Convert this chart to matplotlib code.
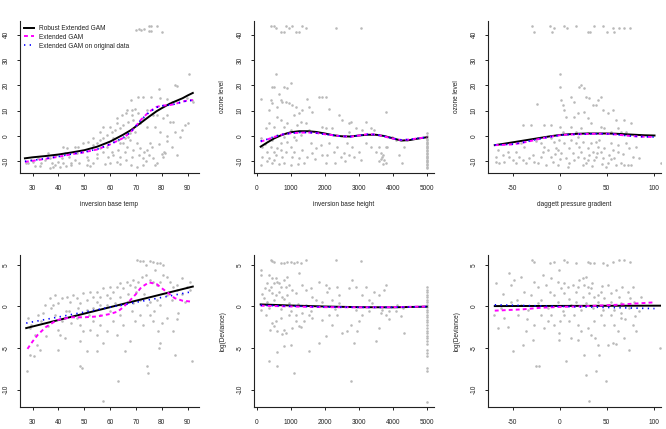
# -*- coding: utf-8 -*-
"""
Robust vs. classical extended GAM fits for the ozone data (R base-graphics look).
"""
import numpy as np
import matplotlib
matplotlib.use('Agg')
import matplotlib.pyplot as plt

plt.rcParams['font.family'] = ['Liberation Sans', 'DejaVu Sans']
plt.rcParams['axes.unicode_minus'] = False

# =============================================================================
# Data
# =============================================================================
# --- top row: ozone level -----------------------------------------------------
ibt_ozone = [
    (70, 42), (71, 42.2), (72, 42), (73, 42.3), (75, 43.4), (76, 43.4), (78, 43.4),
    (75, 41.3), (76, 41.3), (80, 41.2),
    (90.5, 24.5), (85.7, 19.7), (85.1, 20.1), (79, 18.4), (70.9, 15.5), (72.8, 15.5),
    (76, 15.5), (79.3, 14.9), (81.9, 14.6), (83.8, 13.6), (67.9, 14.2), (89.6, 14.9),
    (91.5, 14.2), (92, 13.6),
    (66.4, 10.3), (68.3, 10.3), (69.6, 10.5), (64.5, 8.3), (74.1, 10.3), (76.7, 8.3),
    (78, 8.3), (81.9, 8.3), (83.2, 5.7), (84.5, 5.7), (80.6, 7), (77.4, 3.7), (79.3, 1.7),
    (81.9, 0), (87, -0.3), (85.1, 1.7), (89, 4.3), (74.1, 3.7), (71.5, 5), (69, 6.3),
    (67, 5.7), (65.1, 4.3), (63.8, 3), (61.9, 2.4), (62.6, 5), (60.6, 1.7), (58.6, 0.4),
    (59.9, 3.7), (57.4, -0.9), (56.1, -1.6), (54.8, -2.9), (53.5, -3.6), (61.2, -0.9),
    (63.2, -1.6), (65.1, -2.9), (66.4, -4.2), (67.7, -1.6), (70.3, -2.9), (71.5, -4.9),
    (69, -5.5), (71, -7.5), (68.3, -8.2), (72.8, -8.8), (74.1, -5.5), (75.4, -2.9),
    (76.1, -4.2), (76.7, -8.8), (78, -10.8), (80.6, -8.2), (81.2, -6.8), (65.7, -6.2),
    (63.8, -8.2), (62.6, -10.1), (61.2, -7.5), (59.3, -8.2), (57.4, -6.2), (54.8, -8.8),
    (53.5, -10.8), (51.6, -9.5), (50.9, -8.2), (49.2, -6.2), (47.7, -4.2), (47.1, -6.8),
    (46.5, -9.5), (44.8, -10.8), (44, -8.2), (42.5, -6.8), (41.2, -8.8), (39.9, -10.1),
    (38.6, -11.4), (37.3, -10.8), (36.6, -8.8), (35.8, -6.8), (34.7, -9.5), (33.4, -10.8),
    (32.1, -8.8), (30.3, -10.1), (29.5, -9.5), (28.3, -10.8), (27.5, -10.5), (36.6, -12.8),
    (37.9, -12.1), (40.5, -12.1), (41.8, -10.8), (45, -11.4), (50.9, -11.4), (52.2, -11.8),
    (72.8, -11.4), (77.4, -11.4), (70.3, -12.1), (80, -7.1), (80.8, -6.2), (56, 1.7),
    (57.4, 3.7), (62.6, 7), (66.1, 9), (68.6, 8.3), (70.6, 9), (72.8, 7), (67.7, 1),
    (69.6, 1.7), (67, -0.3), (53.5, -0.9), (51.6, -2.2), (49.6, -2.9), (46.5, -4.2),
    (43.2, -4.9), (41.9, -4.2), (58.6, -4.2), (56.1, -4.9), (60.6, -6.2), (63.2, -5.5),
    (63.8, -2.9), (65.7, -0.9), (60, -10.5), (64, -11), (66, -9.5), (68, -11.5),
    (73, -6.5), (74, -10), (75, -7.5), (79, -3), (82, -2), (84, -4.5), (86, -7.5),
    (88, 2.5), (90, 5), (55, -7), (58, -11), (48, -10.5), (43, -12), (39, -7.5),
    (33, -12), (31, -11.8),
]

ibh_ozone = [
    (403, 43.4), (501, 43.4), (550, 42.5), (697, 41.2), (795, 41.2), (845, 43.4),
    (943, 42.5), (1041, 43.4), (1139, 41.2), (1237, 41.2), (1335, 43.4), (1434, 42.5),
    (2318, 42.5), (3054, 42.5),
    (108, 14.5), (452, 19.5), (501, 19.5), (550, 24.5), (795, 19.2), (894, 18.8),
    (992, 20.8), (648, 16.4), (746, 13.6), (845, 13.6), (943, 12.9), (1041, 12.2),
    (1139, 11.6), (599, 11.6), (697, 14.2), (452, 12.9), (403, 14.2), (1483, 14.5),
    (1827, 15.5), (1925, 15.5), (2043, 15.5), (2121, 10.5), (1335, 10.3), (1237, 9),
    (354, 10.3), (1532, 11.6), (1630, 9.6),
    (255, 3), (354, 5), (501, 3.7), (599, 7.6), (697, 6.3), (795, 3.7), (894, 5),
    (992, 2.4), (1090, 8.3), (1188, 4.3), (1286, 5.7), (1434, 5), (1532, 2.4),
    (1728, 1.7), (1925, 3.7), (2022, 3), (2219, 3), (2416, 8.3), (2514, 6.3),
    (2711, 5), (2760, 5.7), (2907, 3), (3201, 5.7), (3447, 2.4), (3791, 9.6),
    (2711, 1.7), (3103, 2.4), (3348, 3),
    (108, -0.9), (157, -4.2), (137, -8.2), (108, -11.4), (304, -6.2), (403, -4.2),
    (452, -1.6), (354, -8.8), (452, -10.8), (550, -7.5), (599, -4.9), (697, -2.9),
    (746, -8.2), (845, -6.2), (894, -2.2), (992, -4.2), (1041, -8.2), (1090, -6.2),
    (1139, -1.6), (1237, -8.8), (1335, -5.5), (1385, -10.8), (1483, -8.2), (1581, -2.9),
    (1630, -6.8), (1728, -4.9), (1876, -3.6), (1925, -7.5), (2022, -10.8), (2071, -7.5),
    (2121, -2.9), (2268, -6.2), (2367, -4.2), (2465, -8.2), (2563, -6.8), (2661, -2.9),
    (2711, -7.5), (2809, -4.2), (2858, -8.2), (3005, -6.2), (3054, -9.5), (3201, -2.9),
    (3348, -4.2), (3496, -6.2), (3594, -4.2), (3643, -6.8), (3692, -8.2), (3742, -9.5),
    (3791, -10.8), (3840, -4.2), (3987, -0.3), (4085, -1.6), (4183, -7.5), (4282, -10.8),
    (4331, -4.2), (4429, -1.6),
    (300, -10), (500, -9.5), (650, -11), (800, -10.5), (1000, -11.5), (1200, -11),
    (400, -1), (600, 0.5), (800, -0.5), (900, 1), (1100, -0.5), (1300, 0.5), (700, -5.5),
    (500, -6.5), (250, -3), (1700, -9), (2300, -10.5), (2600, -10), (3700, -11),
    (3600, -10), (3650, -9), (3700, -7.5), (3800, -4.5),
    (5000, -12.6), (5000, -12.1), (5000, -11.5), (5000, -11.0), (5000, -10.4),
    (5000, -9.9), (5000, -9.3), (5000, -8.8), (5000, -8.2), (5000, -7.7), (5000, -7.1),
    (5000, -6.6), (5000, -6.0), (5000, -5.5), (5000, -4.9), (5000, -4.4), (5000, -3.8),
    (5000, -3.3), (5000, -2.7), (5000, -2.2), (5000, -1.6), (5000, -1.1), (5000, -0.5),
    (5000, 0.0), (5000, 1.2),
]

dpg_ozone = [
    (-29.4, 43.4), (-27, 41.2), (-9.9, 43.4), (-8.5, 41.2), (-5.7, 42.5), (4.3, 43.4),
    (7.8, 42.5), (17.4, 43.4), (29.8, 41.2), (32.3, 41.2), (36.9, 43.4), (45.7, 43.4),
    (50.4, 41.2), (56.4, 42.5), (58.2, 41.2), (63.5, 42.5), (68.8, 42.5), (75.2, 42.5),
    (0, 24.5), (0, 19.5), (-24.5, 12.6), (-30.5, 4.3), (-39.4, 4.3), (-16.3, 4.3),
    (-9.2, 4.3), (0, 3.7), (1.4, 14.2), (3.2, 12.2), (5, 10.3), (6.7, 7.6), (12.1, 15.5),
    (15.6, 13.6), (20.9, 19.2), (22.7, 20.1), (26.2, 18.8), (28, 15.5), (31.6, 14.9),
    (35.1, 12.2), (38.7, 12.2), (40.4, 14.2), (44, 15.5), (45.7, 10.3), (51, 9),
    (56.4, 10.3), (60, 6.3), (68.8, 6.3), (75.9, 5), (19.1, 9), (26.2, 9.6), (29.8, 7),
    (33.3, 5), (15.6, 7.6), (12.1, 3.7), (44, 3.7), (47.5, 3), (54.6, 1.7), (61.7, 3),
    (65, 1.7), (70.6, 1.7), (22.7, 3), (17.4, 1.7), (29.8, 1.0),
    (-67.7, -8.2), (-67.7, -10.1), (-64.2, -10.8), (-58.9, -10.1), (-53.5, -8.2),
    (-50, -9.5), (-46.5, -10.8), (-42.9, -8.2), (-39.4, -9.5), (-35.8, -10.8),
    (-32.3, -8.8), (-28.7, -7.5), (-27, -10.1), (-23.4, -10.8), (-19.9, -8.2),
    (-18.1, -6.2), (-16.3, -4.2), (-12.8, -5.5), (-9.2, -8.2), (-7.4, -10.1),
    (-3.9, -4.9), (-2.1, -11.4), (-0.4, -1.6), (1.4, -6.8), (5, -2.9), (6.7, -8.8),
    (8.5, -12.1), (10.3, -4.9), (13.8, -6.8), (15.6, -9.5), (19.1, -8.2), (20.9, -4.2),
    (22.7, -6.2), (24.5, -2.2), (26.2, -8.8), (28, -10.8), (29.8, -4.9), (31.6, -7.5),
    (33.3, -2.9), (35.1, -6.2), (36.9, -9.5), (38.7, -8.2), (40.4, -4.2), (42.2, -1.6),
    (44, -6.2), (45.7, -8.8), (47.5, -4.9), (49.3, -12.1), (51, -10.8), (52.8, -7.5),
    (54.6, -2.9), (56.4, -5.5), (58.2, -8.8), (61.7, -6.2), (65.2, -10.8), (68.8, -11.4),
    (72.3, -11.4), (75.9, -11.4), (70.6, -2.9), (74.1, -4.9), (77.7, -8.2), (81.2, -4.2),
    (84.8, -8.8), (107.8, -10.5), (3.2, 1.7), (-37.6, -4.2), (-41.1, -2.9), (-46.5, -6.2),
    (-19.9, -2.9), (-9.2, -0.9), (-5.7, -2.2), (12.1, -1.6), (17.4, -2.9), (38.7, -2.2),
    (-55.3, -6.2), (-60.6, -7.5), (-66, -5.5),
    (-25, -2), (-5, -7), (10, -10.5), (25, -11.5), (35, -12), (45, -11), (60, -11.5),
    (0, -9), (-15, -11.5), (30, -9.5), (40, -6.8), (55, -9), (62, -3.5), (67, -7),
    (20, -0.5), (-2, -5.5),
]

# --- bottom row: log(Deviance) --------------------------------------------------
ibt_dev = [
    (70.3, 5.6), (71.5, 5.5), (72.8, 5.5), (75.4, 5.5), (76.7, 5.4), (78, 5.2),
    (79.3, 5.2), (80.6, 5.0), (77.4, 4.4), (73.9, 5.0),
    (34.1, -0.8), (34.8, 0.2), (36.7, 1), (38, 0.2), (38.6, 1.4), (39.9, 0.4), (41.2, 1),
    (43.2, 1.2), (44.5, 0.6), (45.7, 1.4), (47, 1), (48.3, 0.4), (49.6, 1.6), (50.9, 0.8),
    (52.2, 1.8), (53.5, 1.2), (54.8, 1.8), (56.1, 1.2), (57.4, 2.2), (58.6, 1.4),
    (59.9, 2.4), (61.2, 1.8), (62.5, 2.4), (63.8, 2.8), (65.1, 2.2), (66.4, 3),
    (67.7, 2.6), (69, 3.2), (69.6, 2.4), (70.9, 3), (72.2, 3.6), (73.9, 3.8), (75.4, 3.2),
    (76.7, 3), (78, 2.6), (79.3, 3), (80.6, 3.8), (81.9, 3.6), (83.2, 3), (84.5, 2.4),
    (85.7, 2.6), (87.7, 3.4), (89.6, 2.4), (90.9, 3), (81.9, 1.4), (83.8, 0.8), (85.7, 2.0),
    (28.3, -1.4), (28.9, -2.6), (29.5, -2.2), (30.9, -3.4), (28.9, -5.8), (27.7, -7.8),
    (31.5, -4.6), (33.4, -1.8), (36, -2.4), (38.6, -1), (39.9, -2.8), (41.2, -1.8),
    (40.5, -3.4), (42.5, -3.8), (39.9, -5.2), (47, -1.4), (48.3, -2.2), (49.6, -3),
    (48.3, -4.2), (50.9, -5.4), (49, -7.4), (52.2, -2.8), (53.5, -1.8), (54.8, -3.4),
    (56.1, -2.2), (57.4, -4.4), (58.6, -3), (59.9, -0.6), (61.2, -1.8), (62.5, -3.4),
    (63.8, -1), (65.1, -2.2), (65.7, -5.4), (67.7, -4.2), (68.3, -0.6), (69.6, -1.8),
    (71.5, -1), (72.8, -2.2), (74.1, -7.2), (74.8, -8), (75.4, -1), (76.7, -1.8),
    (78.6, -3), (79.3, -4.4), (79, -5), (81.9, -1.4), (84.5, -3), (85.1, -5.8),
    (86.4, -0.8), (91.5, -6.6), (63.2, -9), (57.4, -11.4), (48.3, -7.2), (54.8, -5.4),
    (56.1, -1), (61.9, 0.4), (63.8, 0.2), (66.4, 0.6), (69, 0.4), (71.5, 0.8), (74.1, 0.2),
    (75.4, 0.6), (78, 0.8), (79.3, 0.2), (58.6, 0.2), (56.1, 0.2), (53.5, -0.2),
    (50.9, -0.4), (47.7, -0.2), (44.1, -0.6), (89, 0.6),
    (88, 1.5), (91, 2), (86, -1.5), (80, -2), (77, -0.5), (73, 1.5), (70, 1.8), (67, 1.5),
    (64, 1.2), (60, 1), (55, 0.5), (52, -1), (45, -2), (43, -0.5), (37, -0.2), (32, -1),
    (35, -3.5), (33, -5.2), (30.5, -6),
]

ibh_dev = [
    (403, 5.6), (452, 5.5), (501, 5.4), (697, 5.2), (795, 5.2), (894, 5.4), (992, 5.4),
    (1090, 5.2), (1188, 5.4), (1286, 5.2), (1434, 5.6), (2318, 5.6), (3054, 5.5),
    (1237, 4.0),
    (108, 4.4), (108, 3.8), (354, 3.8), (452, 3.4), (550, 3.4), (304, 2.8), (403, 2.4),
    (501, 2.8), (599, 3), (697, 2.4), (795, 3.2), (845, 2.4), (943, 2.6), (1041, 2),
    (354, 2), (452, 1.6), (550, 1.4), (648, 1.8), (746, 1.2), (894, 1.4), (1139, 1.6),
    (1335, 2.6), (1434, 2), (1581, 2.2), (1630, 1.2), (1827, 3), (2022, 2.6), (2071, 1.8),
    (2121, 2.2), (2367, 2.4), (2416, 1.4), (2711, 2.2), (2809, 3.2), (2907, 2.4),
    (3201, 2.4), (3447, 1.8), (3594, 1.4), (3742, 2), (3791, 2.6), (3103, 1.4),
    (108, -0.4), (255, -1), (354, -0.2), (452, -2), (501, -2.4), (550, -1.8), (599, -3),
    (697, -1.4), (795, -2.8), (845, -3.2), (943, -1), (1041, -2.6), (1139, -1),
    (1237, -2.4), (1335, -0.8), (1385, -1.8), (1532, -1), (1630, -1.4), (354, -6.6),
    (599, -5.5), (599, -7.2), (795, -4.8), (992, -4.6), (1090, -8), (1532, -5.4),
    (1827, -4.4), (2022, -3.6), (1925, -1.6), (2121, -1), (2219, -2.2), (2367, -1),
    (2514, -3.2), (2661, -3), (2760, -2.2), (2858, -4.4), (2956, -3), (3005, -1.8),
    (3103, -1), (3299, -0.6), (3496, -4.2), (3594, -2.6), (3643, -0.8), (3791, -1),
    (3889, -0.6), (4085, -0.6), (4331, -3.2), (2760, -9),
    (943, 0.4), (1434, 0.2), (1925, 0.6), (2416, 0.4), (2907, -0.4), (3398, 0.4),
    (3692, -0.4), (4134, 0.2), (1728, 0.8), (2219, 0.8), (3299, 0.8), (648, 0.2),
    (200, 1), (300, 0.5), (500, 0.8), (700, -0.3), (800, 0.9), (1000, -0.6), (1200, 0.3),
    (250, 2.2), (650, 2.8), (900, 3.6), (750, -3.3), (1150, -1.8), (1300, -2.5),
    (400, -2.8), (150, 1.5), (1600, -0.5), (2300, -0.3), (3900, -1.5), (4250, -1.2),
    (4300, -0.2),
    (5000, 2.3), (5000, 2.0), (5000, 1.7), (5000, 1.4), (5000, 1.1), (5000, 0.8),
    (5000, 0.5), (5000, 0.2), (5000, -0.1), (5000, -0.4), (5000, -0.7), (5000, -1.0),
    (5000, -1.3), (5000, -1.6), (5000, -1.9), (5000, -2.2), (5000, -2.6), (5000, -2.9),
    (5000, -3.2), (5000, -3.5), (5000, -3.8), (5000, -4.2), (5000, -4.5), (5000, -5.2),
    (5000, -5.6), (5000, -6.0), (5000, -7.4), (5000, -7.8), (5000, -11.5),
]

dpg_dev = [
    (-29.4, 5.6), (-27, 5.4), (-9.9, 5.2), (-5.7, 5.4), (4.3, 5.6), (7.8, 5.4),
    (17.4, 5.2), (29.8, 5.4), (32.3, 5.2), (36.9, 5.2), (45.7, 5.2), (50.4, 5),
    (56.4, 5.4), (63.5, 5.6), (68.8, 5.6), (75.2, 5.4),
    (-67.7, 2.8), (-53.5, 4), (-51.8, 2.6), (-48.2, 3.2), (-41.1, 3.6), (-37.6, 1.8),
    (-30.5, 1.4), (-27, 3), (-23.4, 2.4), (-18.1, 3.8), (-14.5, 2.6), (-9.2, 3.4),
    (-5.7, 1.4), (-2.1, 3), (-0.4, 4.4), (1.4, 2.2), (5, 1.6), (8.5, 2.4), (13.8, 2.6),
    (17.4, 1.8), (19.1, 2.4), (20.9, 3.2), (24.5, 3.4), (26.2, 2.6), (28, 3.6),
    (29.8, 2.4), (31.6, 1.6), (33.3, 2.2), (36.9, 1.2), (40.4, 1.4), (44, 1.8), (47.5, 1),
    (51, 2.6), (54.6, 1.6), (59.9, 2), (63.5, 1.2), (66.9, 2.4), (72.3, 1.8), (77.7, 2.4),
    (86.5, 1.2),
    (-69.5, -1), (-66, -2.6), (-58.9, -1.4), (-50, -5.4), (-44.7, -1), (-39.4, -4.6),
    (-35.8, -3), (-28.7, -4), (-25.2, -7.2), (-21.6, -7.2), (-27, -2.2), (-19.9, -1),
    (-16.3, -2.6), (-12.8, -1.8), (-9.2, -1), (-5.7, -2.2), (-0.4, -3.2), (-0.4, -4),
    (5, -1), (6.7, -6.6), (10.3, -1.8), (12.1, -3.8), (15.6, -1), (19.1, -2.2),
    (22.7, -3), (26.2, -5.8), (28, -8.2), (29.8, -2.6), (30.9, -11.4), (33.3, -3.4),
    (36.9, -1.8), (38.7, -7.8), (40.4, -4.6), (42.2, -5.8), (44, -1), (47.5, -2.2),
    (49.3, -9), (51, -4.6), (54.6, -1), (56.4, -4.4), (58.2, -2.2), (61.7, -3),
    (65.2, -1.4), (68.8, -3.8), (74.1, -5.2), (77.7, -2.2), (81.2, -3), (107, -5),
    (-62.4, -0.2), (-51.8, 0.6), (-41.1, 0.2), (-34, -0.4), (-23.4, 0.4), (-12.8, -0.2),
    (-2.1, 0.6), (3.2, -0.6), (12.1, 0.2), (17.4, 0.6), (22.7, -0.4), (28, 0.4),
    (35.1, -0.2), (40.4, 0.6), (45.7, -0.4), (52.8, 0.2), (58.2, -0.4), (65.2, 0.4),
    (74.1, -0.2), (79.4, 0.6),
    (-60, 1.5), (-45, 0.8), (-20, 0.8), (-10, 1.8), (5, 2.8), (10, 0.9), (25, 1.2),
    (35, 2.8), (45, 2.5), (55, 0.5), (65, -0.8), (75, 1), (80, -1.2), (-35, -1.5),
    (-55, -2.5), (0, -1.8), (20, -4), (38, -3.8), (60, -4.5), (70, -1.5), (85, -0.5),
]

# --- fitted curves --------------------------------------------------------------
ibt_grid = [27, 30, 35, 40, 45, 50, 55, 60, 65, 68, 70, 72, 75, 78, 80, 83, 85, 88, 90, 92]
ibt_robust = [-8.8, -8.4, -7.9, -7.3, -6.5, -5.6, -4.2, -2.2, 0.5, 2.3, 3.8, 5.3,
              7.6, 9.8, 11.0, 12.7, 13.6, 14.9, 16.0, 17.0]
ibt_ext = [-10.2, -9.8, -9.0, -8.2, -7.2, -6.4, -5.3, -3.3, -0.8, 1.5, 4.0, 6.5,
           9.5, 11.5, 12.0, 12.2, 12.6, 13.6, 14.0, 14.2]
ibt_orig = [-10.0, -9.6, -8.9, -8.1, -7.1, -6.3, -5.2, -3.2, -0.7, 1.6, 4.0, 6.4,
            9.3, 11.3, 11.9, 12.2, 12.6, 13.5, 13.9, 14.1]

ibh_grid = [111, 300, 500, 750, 1000, 1250, 1500, 1750, 2000, 2250, 2500, 2750,
            3000, 3250, 3500, 3750, 4000, 4250, 4500, 4750, 5000]
ibh_robust = [-4.2, -2.6, -1.0, 0.5, 1.5, 1.9, 1.9, 1.6, 1.0, 0.3, -0.1, -0.2,
              0.2, 0.5, 0.5, 0.0, -0.9, -1.8, -1.6, -1.0, -0.5]
ibh_ext = [-2.2, -1.4, -0.4, 0.6, 1.1, 1.3, 1.4, 1.2, 0.7, 0.3, -0.1, -0.3,
           0.2, 0.7, 0.6, -0.2, -1.0, -1.6, -1.4, -0.9, -0.5]
ibh_orig = [-2.0, -1.3, -0.3, 0.6, 1.1, 1.4, 1.4, 1.2, 0.7, 0.3, -0.1, -0.2,
            0.2, 0.6, 0.6, -0.1, -0.9, -1.5, -1.4, -0.9, -0.5]

dpg_grid = [-69, -60, -50, -40, -30, -20, -10, 0, 10, 20, 30, 40, 50, 60, 70, 80, 90, 101]
dpg_robust = [-3.6, -3.1, -2.5, -1.9, -1.3, -0.7, -0.1, 0.4, 0.7, 0.9, 1.0, 1.0,
              1.0, 0.9, 0.7, 0.5, 0.3, 0.2]
dpg_ext = [-3.6, -3.5, -3.3, -2.7, -1.9, -1.0, -0.3, 0.3, 0.6, 0.7, 0.8, 0.9,
           0.9, 0.6, 0.2, -0.1, -0.3, -0.4]
dpg_orig = [-3.5, -3.4, -3.2, -2.6, -1.8, -1.0, -0.3, 0.3, 0.6, 0.7, 0.8, 0.9,
            0.9, 0.6, 0.2, -0.1, -0.3, -0.4]

ibt_dev_grid = [28, 30, 32, 35, 38, 40, 45, 50, 55, 60, 63, 65, 67, 70, 72, 75,
                78, 80, 83, 85, 88, 91]
ibt_dev_ext = [-5.1, -4.2, -3.4, -2.5, -1.9, -1.6, -1.3, -1.3, -1.2, -0.9, -0.6,
               -0.1, 0.5, 1.5, 2.3, 2.9, 2.7, 2.2, 1.5, 1.0, 0.7, 0.6]
ibt_dev_line_x = [27.5, 92]
ibt_dev_robust = [-2.6, 2.4]
ibt_dev_orig = [-2.0, 1.8]

ibh_dev_grid = [111, 1000, 2000, 3000, 4000, 5000]
ibh_dev_robust = [0.25, 0.12, 0.0, -0.08, -0.1, -0.02]
ibh_dev_ext = [0.1, 0.0, -0.08, -0.1, -0.08, 0.0]
ibh_dev_orig = [0.15, 0.05, -0.05, -0.1, -0.1, -0.02]

dpg_dev_grid = [-69, -40, -20, 0, 20, 40, 60, 80, 101]
dpg_dev_ext = [-0.5, -0.35, -0.15, -0.05, 0.0, 0.1, 0.2, 0.35, 0.5]
dpg_dev_line_x = [-69, 107]
dpg_dev_robust = [0.05, 0.1]
dpg_dev_orig_x = [-69, 101]
dpg_dev_orig = [0.2, -0.25]

# =============================================================================
# Styling helpers
# =============================================================================
FS = 4.7
PT_COL = '#b9b9b9'


def r_axes(ax, xlim, ylim, xticks, yticks, w_px, h_px, xlabel=None, ylabel=None):
    """Give an axes the look of R base graphics (bty='l')."""
    ax.set_xlim(xlim)
    ax.set_ylim(ylim)
    ax.set_xticks(xticks)
    ax.set_yticks(yticks)
    for s in ['top', 'right']:
        ax.spines[s].set_visible(False)
    for s in ['left', 'bottom']:
        ax.spines[s].set_linewidth(0.8)
        ax.spines[s].set_color('#222222')
    ax.tick_params(direction='out', length=2.4, width=0.7, labelsize=FS,
                   color='#222222', labelcolor='#222222')
    ax.tick_params(axis='x', pad=6.0)
    ax.tick_params(axis='y', pad=4.8, labelrotation=90)
    for lab in ax.get_yticklabels():
        lab.set_va('center')
    if xlabel:
        ax.set_xlabel(xlabel, fontsize=FS, color='#222222', va='center')
        ax.xaxis.set_label_coords(0.5, -32.0 / h_px)
    if ylabel:
        ax.set_ylabel(ylabel, fontsize=FS, color='#222222', va='center')
        ax.yaxis.set_label_coords(-31.0 / w_px, 0.5)


def pts(ax, data):
    arr = np.array(data)
    ax.scatter(arr[:, 0], arr[:, 1], s=3.4, color=PT_COL, linewidths=0, zorder=1)


def fits(ax, x, robust, ext, orig, x_ext=None, x_orig=None):
    x_ext = x if x_ext is None else x_ext
    x_orig = x if x_orig is None else x_orig
    ax.plot(x, robust, color='black', lw=1.4, zorder=3,
            label='Robust Extended GAM')
    ax.plot(x_ext, ext, color='#ff00ff', lw=1.4, dashes=(2.0, 1.6), zorder=4,
            label='Extended GAM')
    ax.plot(x_orig, orig, color='#0000ff', lw=1.2, dashes=(0.8, 2.6), zorder=5,
            label='Extended GAM on original data')


# =============================================================================
# Figure
# =============================================================================
W, H = 666, 429
fig = plt.figure(figsize=(W / 100, H / 100), dpi=100)

cols = [(20, 199), (254, 434), (488, 661)]
rows = [(21, 173), (255, 407)]


def make_ax(col, row):
    x0, x1 = cols[col]
    y0, y1 = rows[row]
    return fig.add_axes([x0 / W, (H - y1) / H, (x1 - x0) / W, (y1 - y0) / H]), \
        x1 - x0, y1 - y0


top_ylim = (-14.6, 45.4)
bot_ylim = (-12.1, 6.2)
ibt_lim = (25.1, 94.4)
ibh_lim = (-85, 5215)
dpg_lim = (-76.2, 107.9)

# top left
ax, w, h = make_ax(0, 0)
pts(ax, ibt_ozone)
fits(ax, ibt_grid, ibt_robust, ibt_ext, ibt_orig)
r_axes(ax, ibt_lim, top_ylim, range(30, 91, 10), range(-10, 41, 10), w, h,
       xlabel='inversion base temp')
leg = ax.legend(loc='upper left', bbox_to_anchor=(0.0, 1.0), frameon=False,
                fontsize=FS, handlelength=1.55, handletextpad=0.75,
                labelspacing=0.28, borderaxespad=0.35, borderpad=0.25)
for t in leg.get_texts():
    t.set_color('#222222')

# top middle
ax, w, h = make_ax(1, 0)
pts(ax, ibh_ozone)
fits(ax, ibh_grid, ibh_robust, ibh_ext, ibh_orig)
r_axes(ax, ibh_lim, top_ylim, range(0, 5001, 1000), range(-10, 41, 10), w, h,
       xlabel='inversion base height', ylabel='ozone level')

# top right
ax, w, h = make_ax(2, 0)
pts(ax, dpg_ozone)
fits(ax, dpg_grid, dpg_robust, dpg_ext, dpg_orig)
r_axes(ax, dpg_lim, top_ylim, [-50, 0, 50, 100], range(-10, 41, 10), w, h,
       xlabel='daggett pressure gradient', ylabel='ozone level')

# bottom left
ax, w, h = make_ax(0, 1)
pts(ax, ibt_dev)
fits(ax, ibt_dev_line_x, ibt_dev_robust, ibt_dev_ext, ibt_dev_orig,
     x_ext=ibt_dev_grid)
r_axes(ax, ibt_lim, bot_ylim, range(30, 91, 10), [-10, -5, 0, 5], w, h)

# bottom middle
ax, w, h = make_ax(1, 1)
pts(ax, ibh_dev)
fits(ax, ibh_dev_grid, ibh_dev_robust, ibh_dev_ext, ibh_dev_orig)
r_axes(ax, ibh_lim, bot_ylim, range(0, 5001, 1000), [-10, -5, 0, 5], w, h,
       ylabel='log(Deviance)')

# bottom right
ax, w, h = make_ax(2, 1)
pts(ax, dpg_dev)
fits(ax, dpg_dev_line_x, dpg_dev_robust, dpg_dev_ext, dpg_dev_orig,
     x_ext=dpg_dev_grid, x_orig=dpg_dev_orig_x)
r_axes(ax, dpg_lim, bot_ylim, [-50, 0, 50, 100], [-10, -5, 0, 5], w, h,
       ylabel='log(Deviance)')

fig.savefig('out.png', dpi=100)
